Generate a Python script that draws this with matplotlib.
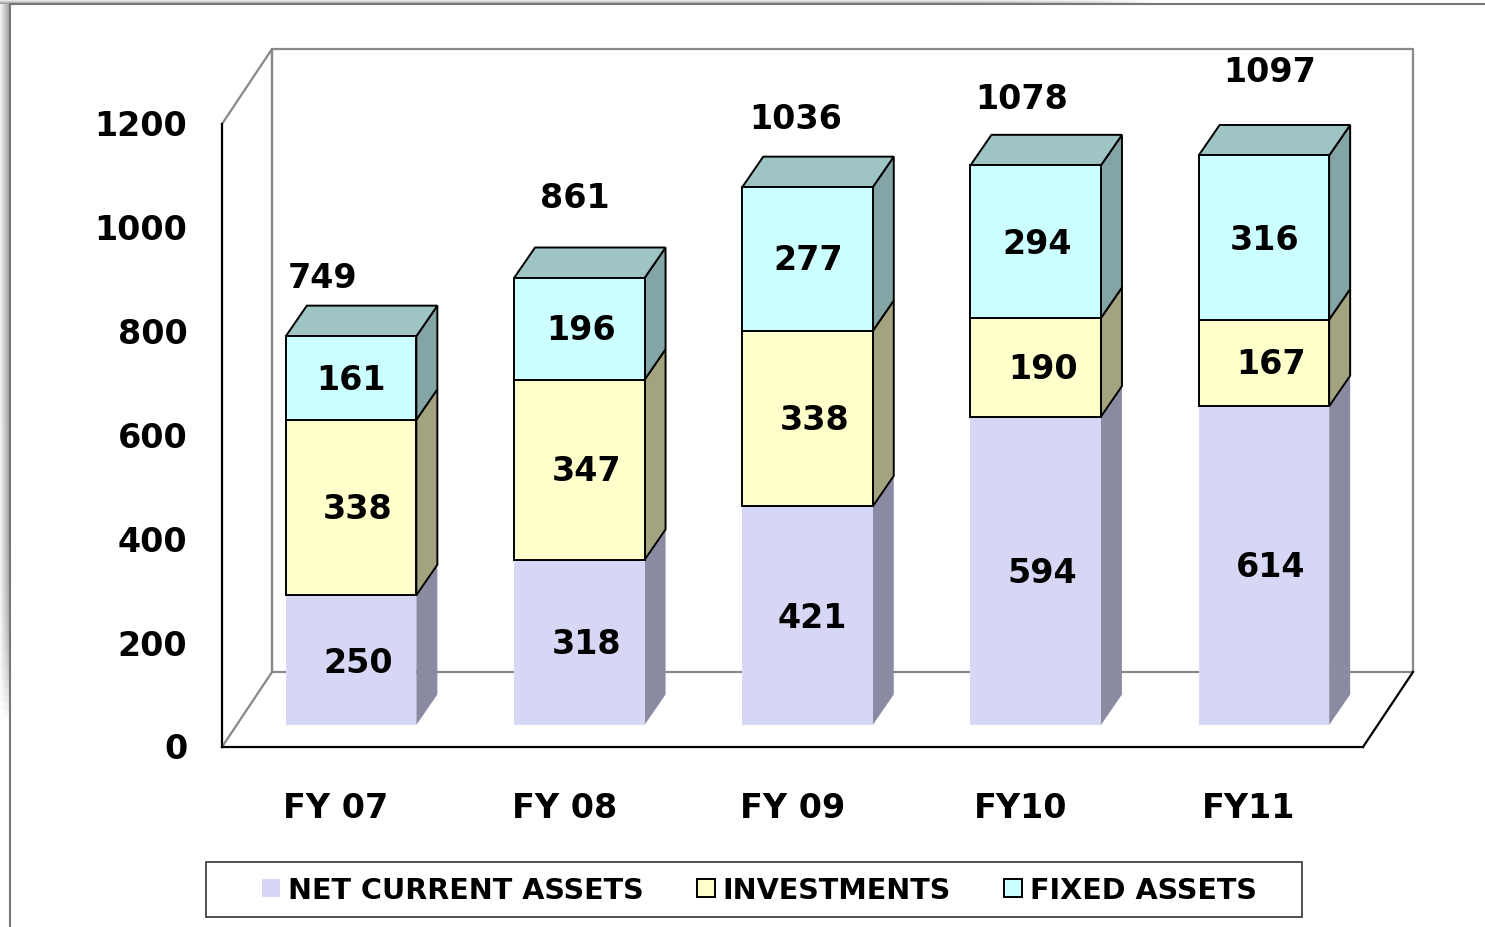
import matplotlib
matplotlib.use("Agg")
import matplotlib.pyplot as plt
import matplotlib.transforms as mtransforms
import numpy as np
from matplotlib.patches import Polygon, Rectangle

years = ["FY 07", "FY 08", "FY 09", "FY10", "FY11"]
net_current = [250, 318, 421, 594, 614]
investments = [338, 347, 338, 190, 167]
fixed_assets = [161, 196, 277, 294, 316]
totals = [749, 861, 1036, 1078, 1097]
y_ticks = [0, 200, 400, 600, 800, 1000, 1200]

series_names = ["NET CURRENT ASSETS", "INVESTMENTS", "FIXED ASSETS"]
front_cols = ["#D6D7F4", "#FFFFCC", "#CCFFFF"]
side_cols = ["#8A8BA3", "#A3A380", "#84A5A5"]
top_col = "#9EC4C4"

# label nudges in pixels (right, up), the original chart placed them by hand
seg_nudge = [[(7, -2), (7, -1), (0, -2)],
             [(7, -1), (7, -1), (2, -1)],
             [(5, -2), (7, -1), (1, 0)],
             [(7, -2), (7, -1), (1, -2)],
             [(7, -1), (7, -1), (1, -2)]]
total_nudge = [(-29, 59), (-4, 80), (-12, 69), (-14, 67), (6, 84)]

W, H = 1485, 928
fig = plt.figure(figsize=(W / 100, H / 100), dpi=100, facecolor="white")
plt.rcParams["font.family"] = "DejaVu Sans"
plt.rcParams["font.weight"] = "bold"

# page frame with its soft shadow, in pixels
bg = fig.add_axes([0, 0, 1, 1])
left_shade = np.linspace(0.95, 0.62, 10).reshape(1, -1)
left_shade = np.repeat(left_shade, 100, axis=0) + np.linspace(0, 1, 100).reshape(-1, 1) ** 12 * (1 - left_shade)
bg.imshow(np.clip(left_shade, 0, 1), extent=(0, 10, 725, 5), cmap="gray", vmin=0, vmax=1, aspect="auto")
top_shade = np.linspace(1, 0.62, 5).reshape(-1, 1)
top_shade = np.repeat(top_shade, 100, axis=1) + np.linspace(0, 1, 100).reshape(1, -1) ** 14 * (1 - top_shade)
bg.imshow(np.clip(top_shade, 0, 1), extent=(0, 1160, 5, 0), cmap="gray", vmin=0, vmax=1, aspect="auto")
bg.plot([10, 10, W], [H, 5, 5], color="#777777", lw=1.5)
bg.add_patch(Rectangle((206, 863), 1096, 55, facecolor="white", edgecolor="#333333", lw=1.2))
bg.set_xlim(0, W)
bg.set_ylim(H, 0)
bg.axis("off")

# main axes is the front plane of the chart box
left, right, bottom, top = 222, 1363, 748, 125
ax = fig.add_axes([left / W, 1 - bottom / H, (right - left) / W, (bottom - top) / H])
ax.patch.set_alpha(0)
ax.set_xlim(-0.5, 4.5)
ax.set_ylim(0, 1200)
px_x = (right - left) / 5
px_y = (bottom - top) / 1200

for s in ["top", "right"]:
    ax.spines[s].set_visible(False)
for s in ["left", "bottom"]:
    ax.spines[s].set_linewidth(1.6)
ax.set_xticks(np.arange(len(years)))
ax.set_xticklabels(years, fontsize=24, fontweight="bold")
ax.set_yticks(y_ticks)
ax.set_yticklabels([str(v) for v in y_ticks], fontsize=24, fontweight="bold")
ax.tick_params(axis="x", length=0, pad=32)
ax.tick_params(axis="y", length=0, pad=25)
up = mtransforms.ScaledTranslation(0, 1.1 / 72, fig.dpi_scale_trans)
for lbl in ax.get_yticklabels():
    lbl.set_transform(lbl.get_transform() + up)

# box walls
wall_dx = 50 / px_x
wall_dy = 75 / px_y
x0, x1 = -0.5, 4.5
grey = "#888888"
ax.plot([x0, x0 + wall_dx, x0 + wall_dx, x1 + wall_dx, x1 + wall_dx, x0 + wall_dx, x0 + wall_dx, x0],
        [1200, 1200 + wall_dy, wall_dy, wall_dy, 1200 + wall_dy, 1200 + wall_dy, wall_dy, 0],
        color=grey, lw=1.6, clip_on=False, zorder=1)
ax.plot([x1, x1 + wall_dx], [0, wall_dy], color="black", lw=1.6, clip_on=False, zorder=1)

# bars sit part way into the box
shift_x = 15 / px_x
lift = 22 / px_y
depth_x = 21 / px_x
depth_y = 30.5 / px_y
bar_w = 130.5 / px_x
xs = np.arange(len(years)) + shift_x

handles = []
base = np.zeros(len(years))
for i, vals in enumerate([net_current, investments, fixed_assets]):
    vals = np.array(vals)
    edge = "none" if i == 0 else "black"
    b = ax.bar(xs, vals, bar_w, bottom=base + lift, color=front_cols[i], edgecolor=edge,
               linewidth=1.4, zorder=5, label=series_names[i], clip_on=False)
    handles.append(b)
    for k in range(len(years)):
        xr = xs[k] + bar_w / 2
        y0 = base[k] + lift
        y1 = y0 + vals[k]
        ax.add_patch(Polygon([(xr, y0), (xr + depth_x, y0 + depth_y), (xr + depth_x, y1 + depth_y), (xr, y1)],
                             closed=True, facecolor=side_cols[i], edgecolor=edge, linewidth=1.4,
                             zorder=4, clip_on=False))
        if i == 2:
            xl = xs[k] - bar_w / 2
            ax.add_patch(Polygon([(xl, y1), (xl + depth_x, y1 + depth_y), (xr + depth_x, y1 + depth_y), (xr, y1)],
                                 closed=True, facecolor=top_col, edgecolor="black", linewidth=1.4,
                                 zorder=4, clip_on=False))
        nx, ny = seg_nudge[k][i]
        ax.annotate(str(vals[k]), (xs[k], y0 + vals[k] / 2), xytext=(nx * 0.72, ny * 0.72),
                    textcoords="offset points", ha="center", va="center",
                    fontsize=24, fontweight="bold", zorder=8)
    base = base + vals

for k, t in enumerate(totals):
    nx, ny = total_nudge[k]
    ax.annotate(str(t), (xs[k], t + lift), xytext=(nx * 0.72, ny * 0.72), textcoords="offset points",
                ha="center", va="center", fontsize=24, fontweight="bold", zorder=8)

leg = ax.legend(handles=handles, loc="center", ncol=3,
                bbox_to_anchor=(759.5 / W, 1 - 891 / H), bbox_transform=fig.transFigure,
                fontsize=20.6, frameon=False,
                handlelength=0.63, handleheight=0.63, handletextpad=0.28, columnspacing=1.86,
                borderpad=0, borderaxespad=0)
for t in leg.get_texts():
    t.set_fontweight("bold")

fig.savefig("out.png", dpi=100)
